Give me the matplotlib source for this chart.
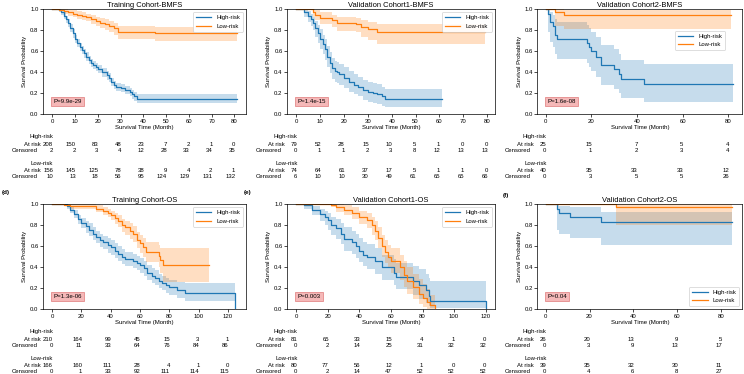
"""Kaplan-Meier curves with at-risk tables, six cohorts."""

import matplotlib
matplotlib.use("Agg")
import matplotlib.pyplot as plt
import matplotlib.transforms as mtransforms

plt.rcParams["font.family"] = ["Liberation Sans", "DejaVu Sans"]

# ---- Training Cohort-BMFS ----
t_h1 = [0, 3, 4, 5, 6, 7, 8, 9, 10, 11, 12, 13, 14, 15, 16, 17, 18, 19, 20, 22, 24, 25, 26, 27, 28, 30, 32, 34, 35, 36, 37, 81]
s_h1 = [1.00, 0.99, 0.97, 0.94, 0.91, 0.87, 0.82, 0.77, 0.72, 0.68, 0.64, 0.61, 0.58, 0.55, 0.52, 0.49, 0.47, 0.45, 0.43, 0.40, 0.37, 0.35, 0.31, 0.28, 0.26, 0.25, 0.23, 0.21, 0.19, 0.17, 0.15, 0.15]
lo_h1 = [1.00, 0.97, 0.95, 0.91, 0.87, 0.83, 0.78, 0.73, 0.68, 0.64, 0.60, 0.57, 0.54, 0.51, 0.48, 0.45, 0.43, 0.41, 0.39, 0.36, 0.33, 0.31, 0.27, 0.24, 0.22, 0.21, 0.19, 0.17, 0.15, 0.13, 0.11, 0.11]
hi_h1 = [1.00, 1.00, 0.99, 0.97, 0.94, 0.91, 0.86, 0.81, 0.76, 0.72, 0.68, 0.65, 0.62, 0.59, 0.56, 0.53, 0.51, 0.49, 0.47, 0.44, 0.41, 0.39, 0.35, 0.32, 0.30, 0.29, 0.27, 0.25, 0.23, 0.21, 0.19, 0.19]
t_l1 = [0, 3, 5, 7, 9, 11, 13, 15, 17, 19, 21, 23, 25, 27, 29, 45, 81]
s_l1 = [1.00, 0.99, 0.98, 0.97, 0.96, 0.95, 0.94, 0.93, 0.91, 0.89, 0.87, 0.86, 0.84, 0.82, 0.78, 0.77, 0.77]
lo_l1 = [1.00, 0.98, 0.96, 0.94, 0.93, 0.91, 0.90, 0.89, 0.86, 0.84, 0.82, 0.80, 0.78, 0.76, 0.72, 0.70, 0.70]
hi_l1 = [1.00, 1.00, 1.00, 0.99, 0.99, 0.98, 0.97, 0.96, 0.95, 0.93, 0.92, 0.91, 0.89, 0.87, 0.84, 0.83, 0.83]

# ---- Validation Cohort1-BMFS ----
t_h2 = [0, 3, 5, 6, 7, 8, 9, 10, 11, 12, 13, 14, 15, 16, 17, 18, 20, 22, 24, 26, 28, 30, 32, 34, 36, 37, 61]
s_h2 = [1.00, 0.97, 0.94, 0.91, 0.87, 0.82, 0.77, 0.72, 0.67, 0.62, 0.55, 0.49, 0.44, 0.41, 0.40, 0.38, 0.35, 0.31, 0.28, 0.26, 0.23, 0.21, 0.20, 0.19, 0.17, 0.15, 0.15]
lo_h2 = [1.00, 0.93, 0.88, 0.84, 0.80, 0.74, 0.68, 0.62, 0.57, 0.52, 0.45, 0.39, 0.34, 0.31, 0.30, 0.28, 0.25, 0.21, 0.19, 0.17, 0.14, 0.12, 0.11, 0.10, 0.08, 0.07, 0.07]
hi_h2 = [1.00, 1.00, 0.98, 0.96, 0.93, 0.89, 0.85, 0.81, 0.76, 0.72, 0.65, 0.59, 0.54, 0.51, 0.50, 0.48, 0.45, 0.41, 0.38, 0.36, 0.33, 0.31, 0.30, 0.29, 0.26, 0.24, 0.24]
t_l2 = [0, 5, 7, 8, 10, 15, 17, 25, 27, 30, 34, 79]
s_l2 = [1.00, 1.00, 0.97, 0.95, 0.92, 0.90, 0.87, 0.86, 0.83, 0.81, 0.78, 0.78]
lo_l2 = [1.00, 1.00, 0.93, 0.90, 0.86, 0.83, 0.79, 0.78, 0.74, 0.71, 0.67, 0.67]
hi_l2 = [1.00, 1.00, 1.00, 0.99, 0.97, 0.95, 0.93, 0.92, 0.90, 0.88, 0.86, 0.86]

# ---- Validation Cohort2-BMFS ----
t_h3 = [0, 1, 2, 3, 4, 5, 18, 19, 20, 22, 24, 30, 32, 33, 43, 82]
s_h3 = [1.00, 0.96, 0.88, 0.84, 0.76, 0.72, 0.68, 0.64, 0.60, 0.55, 0.47, 0.43, 0.38, 0.34, 0.29, 0.29]
lo_h3 = [1.00, 0.78, 0.69, 0.64, 0.57, 0.53, 0.49, 0.45, 0.41, 0.36, 0.28, 0.24, 0.20, 0.16, 0.12, 0.12]
hi_h3 = [1.00, 1.00, 0.97, 0.95, 0.91, 0.88, 0.85, 0.82, 0.78, 0.74, 0.66, 0.62, 0.57, 0.52, 0.48, 0.48]
t_l3 = [0, 4, 8, 81]
s_l3 = [1.00, 0.975, 0.95, 0.95]
lo_l3 = [1.00, 0.84, 0.81, 0.81]
hi_l3 = [1.00, 1.00, 0.99, 0.99]

# ---- Training Cohort-OS ----
t_h4 = [0, 10, 12, 15, 18, 20, 23, 25, 28, 30, 33, 35, 38, 40, 43, 45, 48, 50, 55, 58, 60, 63, 65, 68, 70, 73, 75, 78, 80, 85, 91, 125]
s_h4 = [1.00, 0.98, 0.95, 0.91, 0.86, 0.82, 0.79, 0.76, 0.72, 0.69, 0.66, 0.64, 0.61, 0.59, 0.56, 0.53, 0.50, 0.48, 0.46, 0.44, 0.42, 0.39, 0.35, 0.32, 0.30, 0.27, 0.25, 0.23, 0.21, 0.18, 0.16, 0.00]
lo_h4 = [1.00, 0.96, 0.92, 0.87, 0.81, 0.77, 0.73, 0.70, 0.66, 0.63, 0.59, 0.57, 0.54, 0.52, 0.49, 0.46, 0.43, 0.41, 0.39, 0.37, 0.35, 0.32, 0.28, 0.25, 0.23, 0.20, 0.18, 0.16, 0.14, 0.11, 0.08, 0.00]
hi_h4 = [1.00, 1.00, 0.98, 0.95, 0.90, 0.87, 0.84, 0.82, 0.78, 0.75, 0.72, 0.70, 0.68, 0.66, 0.63, 0.60, 0.57, 0.55, 0.53, 0.51, 0.49, 0.46, 0.42, 0.39, 0.37, 0.34, 0.32, 0.30, 0.28, 0.26, 0.25, 0.00]
t_l4 = [0, 8, 12, 30, 35, 38, 40, 43, 45, 48, 50, 53, 55, 58, 60, 62, 64, 73, 74, 76, 107]
s_l4 = [1.00, 0.99, 0.98, 0.96, 0.94, 0.92, 0.90, 0.87, 0.84, 0.80, 0.78, 0.75, 0.72, 0.66, 0.63, 0.59, 0.55, 0.51, 0.47, 0.42, 0.42]
lo_l4 = [1.00, 0.98, 0.96, 0.93, 0.90, 0.88, 0.85, 0.81, 0.78, 0.74, 0.71, 0.67, 0.64, 0.58, 0.54, 0.50, 0.45, 0.40, 0.35, 0.26, 0.26]
hi_l4 = [1.00, 1.00, 1.00, 0.99, 0.97, 0.96, 0.94, 0.92, 0.90, 0.86, 0.84, 0.82, 0.79, 0.74, 0.71, 0.68, 0.64, 0.61, 0.58, 0.58, 0.58]

# ---- Validation Cohort1-OS ----
t_h5 = [0, 5, 10, 15, 18, 20, 22, 25, 28, 30, 35, 38, 40, 42, 45, 50, 54, 62, 63, 74, 78, 82, 84, 85, 120]
s_h5 = [1.00, 0.99, 0.95, 0.91, 0.88, 0.85, 0.80, 0.77, 0.72, 0.67, 0.64, 0.60, 0.56, 0.52, 0.50, 0.46, 0.40, 0.35, 0.31, 0.27, 0.23, 0.18, 0.13, 0.08, 0.00]
lo_h5 = [1.00, 0.96, 0.90, 0.84, 0.80, 0.76, 0.71, 0.67, 0.62, 0.56, 0.53, 0.49, 0.45, 0.41, 0.38, 0.34, 0.28, 0.23, 0.19, 0.14, 0.10, 0.06, 0.03, 0.01, 0.00]
hi_h5 = [1.00, 1.00, 0.98, 0.96, 0.94, 0.92, 0.88, 0.86, 0.82, 0.78, 0.75, 0.72, 0.68, 0.64, 0.62, 0.58, 0.52, 0.48, 0.44, 0.41, 0.38, 0.34, 0.30, 0.27, 0.00]
t_l5 = [0, 22, 25, 30, 35, 40, 45, 48, 50, 52, 54, 56, 58, 60, 66, 68, 70, 74, 78, 80, 83, 85, 88]
s_l5 = [1.00, 0.99, 0.97, 0.95, 0.92, 0.88, 0.85, 0.80, 0.75, 0.68, 0.60, 0.55, 0.50, 0.46, 0.40, 0.33, 0.27, 0.21, 0.15, 0.11, 0.07, 0.04, 0.00]
lo_l5 = [1.00, 0.97, 0.93, 0.90, 0.86, 0.81, 0.77, 0.71, 0.66, 0.58, 0.50, 0.44, 0.39, 0.35, 0.28, 0.21, 0.15, 0.10, 0.05, 0.02, 0.00, 0.00, 0.00]
hi_l5 = [1.00, 1.00, 1.00, 0.99, 0.97, 0.94, 0.92, 0.88, 0.84, 0.78, 0.71, 0.66, 0.61, 0.58, 0.52, 0.46, 0.40, 0.34, 0.29, 0.24, 0.19, 0.14, 0.00]

# ---- Validation Cohort2-OS ----
t_h6 = [0, 5, 6, 11, 25, 85]
s_h6 = [1.00, 0.96, 0.92, 0.88, 0.83, 0.83]
lo_h6 = [1.00, 0.76, 0.72, 0.68, 0.61, 0.61]
hi_h6 = [1.00, 0.99, 0.98, 0.97, 0.93, 0.93]
t_l6 = [0, 32, 85]
s_l6 = [1.00, 0.975, 0.975]
lo_l6 = [1.00, 0.80, 0.80]
hi_l6 = [1.00, 1.00, 1.00]

# ---- at-risk tables ----
ticks_10_80 = [0, 10, 20, 30, 40, 50, 60, 70, 80]
ticks_20_80 = [0, 20, 40, 60, 80]
ticks_20_120 = [0, 20, 40, 60, 80, 100, 120]

risk_h1 = [208, 150, 83, 48, 23, 7, 2, 1, 0]
cens_h1 = [2, 2, 3, 4, 12, 28, 33, 34, 35]
risk_l1 = [156, 145, 125, 78, 38, 9, 4, 2, 1]
cens_l1 = [10, 13, 18, 56, 95, 124, 129, 131, 132]

risk_h2 = [79, 52, 28, 15, 10, 5, 1, 0, 0]
cens_h2 = [0, 1, 1, 2, 3, 8, 12, 13, 13]
risk_l2 = [74, 64, 61, 37, 17, 5, 1, 1, 0]
cens_l2 = [6, 10, 10, 30, 49, 61, 65, 65, 66]

risk_h3 = [25, 15, 7, 5, 4]
cens_h3 = [0, 1, 2, 3, 4]
risk_l3 = [40, 35, 33, 33, 12]
cens_l3 = [0, 3, 5, 5, 26]

risk_h4 = [210, 164, 99, 45, 15, 3, 1]
cens_h4 = [0, 11, 33, 64, 76, 84, 86]
risk_l4 = [166, 160, 111, 28, 4, 1, 0]
cens_l4 = [0, 1, 33, 92, 111, 114, 115]

risk_h5 = [81, 65, 33, 15, 4, 1, 0]
cens_h5 = [0, 2, 14, 25, 31, 32, 32]
risk_l5 = [80, 77, 56, 12, 1, 0, 0]
cens_l5 = [0, 2, 14, 47, 52, 52, 52]

risk_h6 = [26, 20, 13, 9, 5]
cens_h6 = [0, 3, 9, 13, 17]
risk_l6 = [39, 35, 32, 30, 11]
cens_l6 = [0, 4, 6, 8, 27]

titles = ["Training Cohort-BMFS", "Validation Cohort1-BMFS", "Validation Cohort2-BMFS",
          "Training Cohort-OS", "Validation Cohort1-OS", "Validation Cohort2-OS"]
pvals = ["P=9.9e-29", "P=1.4e-15", "P=1.6e-08", "P=1.3e-06", "P=0.003", "P=0.04"]

panels = [
    dict(high=(t_h1, s_h1, lo_h1, hi_h1), low=(t_l1, s_l1, lo_l1, hi_l1), ticks=ticks_10_80,
         table=(risk_h1, cens_h1, risk_l1, cens_l1), xlim=(-4.05, 85.05), leg=("upper right", None)),
    dict(high=(t_h2, s_h2, lo_h2, hi_h2), low=(t_l2, s_l2, lo_l2, hi_l2), ticks=ticks_10_80,
         table=(risk_h2, cens_h2, risk_l2, cens_l2), xlim=(-3.95, 83.3), leg=("upper right", None)),
    dict(high=(t_h3, s_h3, lo_h3, hi_h3), low=(t_l3, s_l3, lo_l3, hi_l3), ticks=ticks_20_80,
         table=(risk_h3, cens_h3, risk_l3, cens_l3), xlim=(-3.7, 86.1), leg=("center right", (0.93, 0.70))),
    dict(high=(t_h4, s_h4, lo_h4, hi_h4), low=(t_l4, s_l4, lo_l4, hi_l4), ticks=ticks_20_120,
         table=(risk_h4, cens_h4, risk_l4, cens_l4), xlim=(-6.1, 132.3), leg=("upper right", None)),
    dict(high=(t_h5, s_h5, lo_h5, hi_h5), low=(t_l5, s_l5, lo_l5, hi_l5), ticks=ticks_20_120,
         table=(risk_h5, cens_h5, risk_l5, cens_l5), xlim=(-6.0, 126.0), leg=("upper right", None)),
    dict(high=(t_h6, s_h6, lo_h6, hi_h6), low=(t_l6, s_l6, lo_l6, hi_l6), ticks=ticks_20_80,
         table=(risk_h6, cens_h6, risk_l6, cens_l6), xlim=(-3.8, 89.6), leg=("lower right", None)),
]

BLUE = "#1f77b4"
ORANGE = "#ff7f0e"
FS = 4.3

W, H = 744, 374
fig = plt.figure(figsize=(W / 100, H / 100), dpi=100)

# axes frames in pixels (left, right) / (top, bottom)
cols = [(43, 246), (287, 495), (537.3, 742.3)]
rows = [(9.3, 114.3), (204.3, 309.3)]

# table rows: offset below axes bottom (px)
tab_rows = [("High-risk", 22.4), ("At risk", 30.0), ("Censored", 36.6),
            ("Low-risk", 49.4), ("At risk", 55.8), ("Censored", 62.4)]
label_dx = {"High-risk": 1.0, "Low-risk": 1.0, "At risk": -11.5, "Censored": -14.5}

for i, p in enumerate(panels):
    r, c = divmod(i, 3)
    left, right = cols[c]
    top, bottom = rows[r]
    ax = fig.add_axes([left / W, 1 - bottom / H, (right - left) / W, (bottom - top) / H])

    for key, color, name in (("high", BLUE, "High-risk"), ("low", ORANGE, "Low-risk")):
        t, s, lo, hi = p[key]
        ax.fill_between(t, lo, hi, step="post", color=color, alpha=0.25, lw=0)
        ax.step(t, s, where="post", color=color, lw=0.9, label=name)

    ax.set_xlim(*p["xlim"])
    ax.set_ylim(0, 1)
    ax.set_xticks(p["ticks"])
    ax.set_yticks([0, 0.2, 0.4, 0.6, 0.8, 1.0])
    ax.tick_params(labelsize=FS, length=2, width=0.5, pad=1.2)
    for sp in ax.spines.values():
        sp.set_linewidth(0.5)
    ax.set_title(titles[i], fontsize=5.4, pad=2)
    ax.set_xlabel("Survival Time (Month)", fontsize=FS, labelpad=1)
    ax.set_ylabel("Survival Probability", fontsize=FS, labelpad=2)

    loc, anchor = p["leg"]
    leg_kw = dict(loc=loc, fontsize=FS, handlelength=2.6, framealpha=0.9,
                  edgecolor="#cccccc", fancybox=True, borderpad=0.5)
    if anchor is not None:
        leg_kw["bbox_to_anchor"] = anchor
    leg = ax.legend(**leg_kw)
    leg.get_frame().set_linewidth(0.5)

    ax.text(0.05, 0.12, pvals[i], transform=ax.transAxes, fontsize=4.4, va="center",
            bbox=dict(boxstyle="square,pad=0.35", fc="#f5b8b8", ec="#e07a7a", lw=0.5))

    # at-risk table below the axes
    trans = mtransforms.blended_transform_factory(ax.transData, fig.transFigure)
    values = [None, p["table"][0], p["table"][1], None, p["table"][2], p["table"][3]]
    for (name, dy), vals in zip(tab_rows, values):
        yf = 1 - (bottom + dy) / H
        off = mtransforms.ScaledTranslation(label_dx[name] / 100, 0, fig.dpi_scale_trans)
        ax.text(p["ticks"][0], yf, name, transform=trans + off, fontsize=FS,
                ha="right", va="center")
        if vals is None:
            continue
        nudge = mtransforms.ScaledTranslation(0.8 / 100, 0, fig.dpi_scale_trans)
        for tk, v in zip(p["ticks"], vals):
            ax.text(tk, yf, str(v), transform=trans + nudge, fontsize=FS,
                    ha="right", va="center")

# panel letters for the lower row (upper ones sit above the crop)
for x, y, lab in ((2, 193, "(d)"), (244, 193, "(e)"), (503, 195, "(f)")):
    fig.text(x / W, 1 - y / H, lab, fontsize=4.5, fontweight="bold", va="center")

fig.savefig("out.png", dpi=100)
